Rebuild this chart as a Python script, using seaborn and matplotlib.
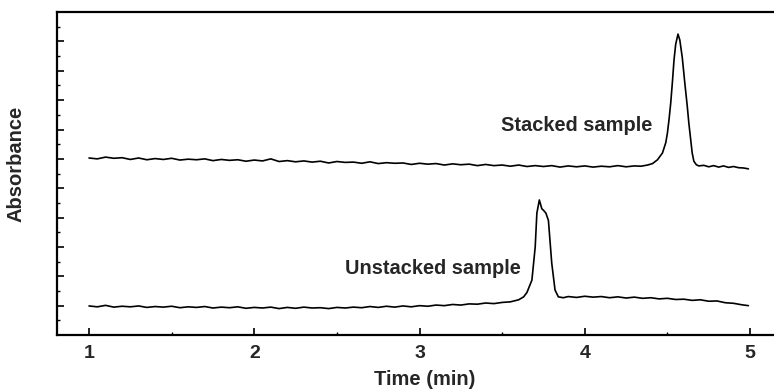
import matplotlib
matplotlib.use("Agg")
import matplotlib.pyplot as plt
import seaborn as sns
import pandas as pd
from matplotlib.ticker import MultipleLocator

# Stacked sample trace (time in min, absorbance in arbitrary tick units)
stacked_time = [1.00, 1.05, 1.10, 1.15, 1.20, 1.25, 1.30, 1.35, 1.40, 1.45,
                1.50, 1.55, 1.60, 1.65, 1.70, 1.75, 1.80, 1.85, 1.90, 1.95,
                2.00, 2.05, 2.10, 2.15, 2.20, 2.25, 2.30, 2.35, 2.40, 2.45,
                2.50, 2.55, 2.60, 2.65, 2.70, 2.75, 2.80, 2.85, 2.90, 2.95,
                3.00, 3.05, 3.10, 3.15, 3.20, 3.25, 3.30, 3.35, 3.40, 3.45,
                3.50, 3.55, 3.60, 3.65, 3.70, 3.75, 3.80, 3.85, 3.90, 3.95,
                4.00, 4.05, 4.10, 4.15, 4.20, 4.25, 4.30, 4.34, 4.38, 4.41,
                4.44, 4.47, 4.49, 4.50, 4.51, 4.52, 4.53, 4.54, 4.55, 4.564,
                4.575, 4.59, 4.605, 4.62, 4.63, 4.64, 4.65, 4.66, 4.675, 4.69,
                4.72, 4.75, 4.78, 4.81, 4.84, 4.87, 4.90, 4.93, 4.96, 4.99]
stacked_abs = [6.03, 6.00, 6.06, 6.02, 6.04, 5.98, 6.03, 5.97, 6.01, 5.98,
               6.02, 5.96, 5.99, 5.97, 6.00, 5.94, 5.98, 5.95, 5.97, 5.92,
               5.96, 5.93, 6.00, 5.91, 5.94, 5.90, 5.93, 5.89, 5.92, 5.86,
               5.91, 5.88, 5.89, 5.85, 5.90, 5.84, 5.87, 5.85, 5.86, 5.81,
               5.85, 5.82, 5.84, 5.79, 5.83, 5.80, 5.82, 5.77, 5.81, 5.77,
               5.79, 5.75, 5.79, 5.74, 5.77, 5.74, 5.77, 5.72, 5.76, 5.73,
               5.76, 5.72, 5.75, 5.73, 5.77, 5.73, 5.76, 5.75, 5.79, 5.84,
               5.97, 6.20, 6.55, 6.88, 7.35, 7.90, 8.60, 9.37, 9.90, 10.25,
               10.05, 9.45, 8.60, 7.80, 7.20, 6.70, 6.20, 5.92, 5.80, 5.76,
               5.78, 5.73, 5.77, 5.72, 5.76, 5.71, 5.74, 5.70, 5.69, 5.66]

# Unstacked sample trace
unstacked_time = [1.00, 1.05, 1.10, 1.15, 1.20, 1.25, 1.30, 1.35, 1.40, 1.45,
                  1.50, 1.55, 1.60, 1.65, 1.70, 1.75, 1.80, 1.85, 1.90, 1.95,
                  2.00, 2.05, 2.10, 2.15, 2.20, 2.25, 2.30, 2.35, 2.40, 2.45,
                  2.50, 2.55, 2.60, 2.65, 2.70, 2.75, 2.80, 2.85, 2.90, 2.95,
                  3.00, 3.05, 3.10, 3.15, 3.20, 3.25, 3.30, 3.35, 3.40, 3.45,
                  3.50, 3.55, 3.60, 3.63, 3.65, 3.68, 3.70, 3.71, 3.725, 3.74,
                  3.75, 3.765, 3.78, 3.80, 3.82, 3.84, 3.87, 3.90, 3.95, 4.00,
                  4.05, 4.10, 4.15, 4.20, 4.25, 4.30, 4.35, 4.40, 4.45, 4.50,
                  4.55, 4.60, 4.65, 4.70, 4.75, 4.80, 4.85, 4.90, 4.95, 4.99]
unstacked_abs = [0.99, 0.96, 1.01, 0.95, 0.98, 0.96, 0.99, 0.94, 0.97, 0.95,
                 0.98, 0.93, 0.96, 0.94, 0.97, 0.92, 0.95, 0.93, 0.96, 0.91,
                 0.94, 0.92, 0.95, 0.90, 0.94, 0.91, 0.95, 0.92, 0.93, 0.90,
                 0.94, 0.92, 0.95, 0.93, 0.97, 0.94, 0.98, 0.95, 0.99, 0.96,
                 1.00, 0.98, 1.02, 1.00, 1.04, 1.02, 1.06, 1.05, 1.09, 1.07,
                 1.11, 1.13, 1.20, 1.30, 1.45, 1.87, 3.00, 4.15, 4.60, 4.30,
                 4.25, 4.15, 3.90, 2.45, 1.53, 1.30, 1.27, 1.31, 1.28, 1.32,
                 1.29, 1.31, 1.27, 1.30, 1.26, 1.29, 1.25, 1.27, 1.23, 1.25,
                 1.21, 1.22, 1.18, 1.20, 1.15, 1.16, 1.10, 1.08, 1.03, 1.00]

x_ticks = [1, 2, 3, 4, 5]

stacked_df = pd.DataFrame({"time": stacked_time, "absorbance": stacked_abs})
unstacked_df = pd.DataFrame({"time": unstacked_time, "absorbance": unstacked_abs})

sns.set_theme(style="ticks")
plt.rcParams["font.family"] = ["Liberation Sans", "DejaVu Sans"]
plt.rcParams["font.weight"] = "bold"

fig = plt.figure(figsize=(7.74, 3.90), dpi=100)
ax = fig.add_axes([0.0736, 0.141, 0.9264, 0.828])

sns.lineplot(data=stacked_df, x="time", y="absorbance", color="black", lw=1.2, ax=ax)
sns.lineplot(data=unstacked_df, x="time", y="absorbance", color="black", lw=1.2, ax=ax)

ax.set_xlim(0.806, 5.145)
ax.set_ylim(0, 11)
ax.set_xticks(x_ticks)
ax.set_xticklabels([str(t) for t in x_ticks], fontsize=14, fontweight="bold")
ax.xaxis.set_minor_locator(MultipleLocator(0.5))
ax.yaxis.set_major_locator(MultipleLocator(1))
ax.yaxis.set_minor_locator(MultipleLocator(0.5))
ax.set_yticklabels([])
ax.tick_params(axis="both", which="major", direction="in", length=5, width=1.2, color="black")
ax.tick_params(axis="both", which="minor", direction="in", length=2.5, width=1, color="black")
ax.tick_params(axis="x", pad=7)

for side in ["left", "bottom", "top"]:
    ax.spines[side].set_linewidth(1.6)
    ax.spines[side].set_color("black")
ax.spines["right"].set_visible(False)

ax.set_xlabel("Time (min)", fontsize=14.5, fontweight="bold")
ax.set_ylabel("Absorbance", fontsize=14.5, fontweight="bold")
ax.xaxis.set_label_coords(0.513, -0.108)
ax.yaxis.set_label_coords(-0.044, 0.531)

ax.text(3.49, 7.12, "Stacked sample", fontsize=14.4, fontweight="bold", va="center", ha="left")
ax.text(2.55, 2.28, "Unstacked sample", fontsize=14.4, fontweight="bold", va="center", ha="left")

fig.savefig("out.png", dpi=100)
